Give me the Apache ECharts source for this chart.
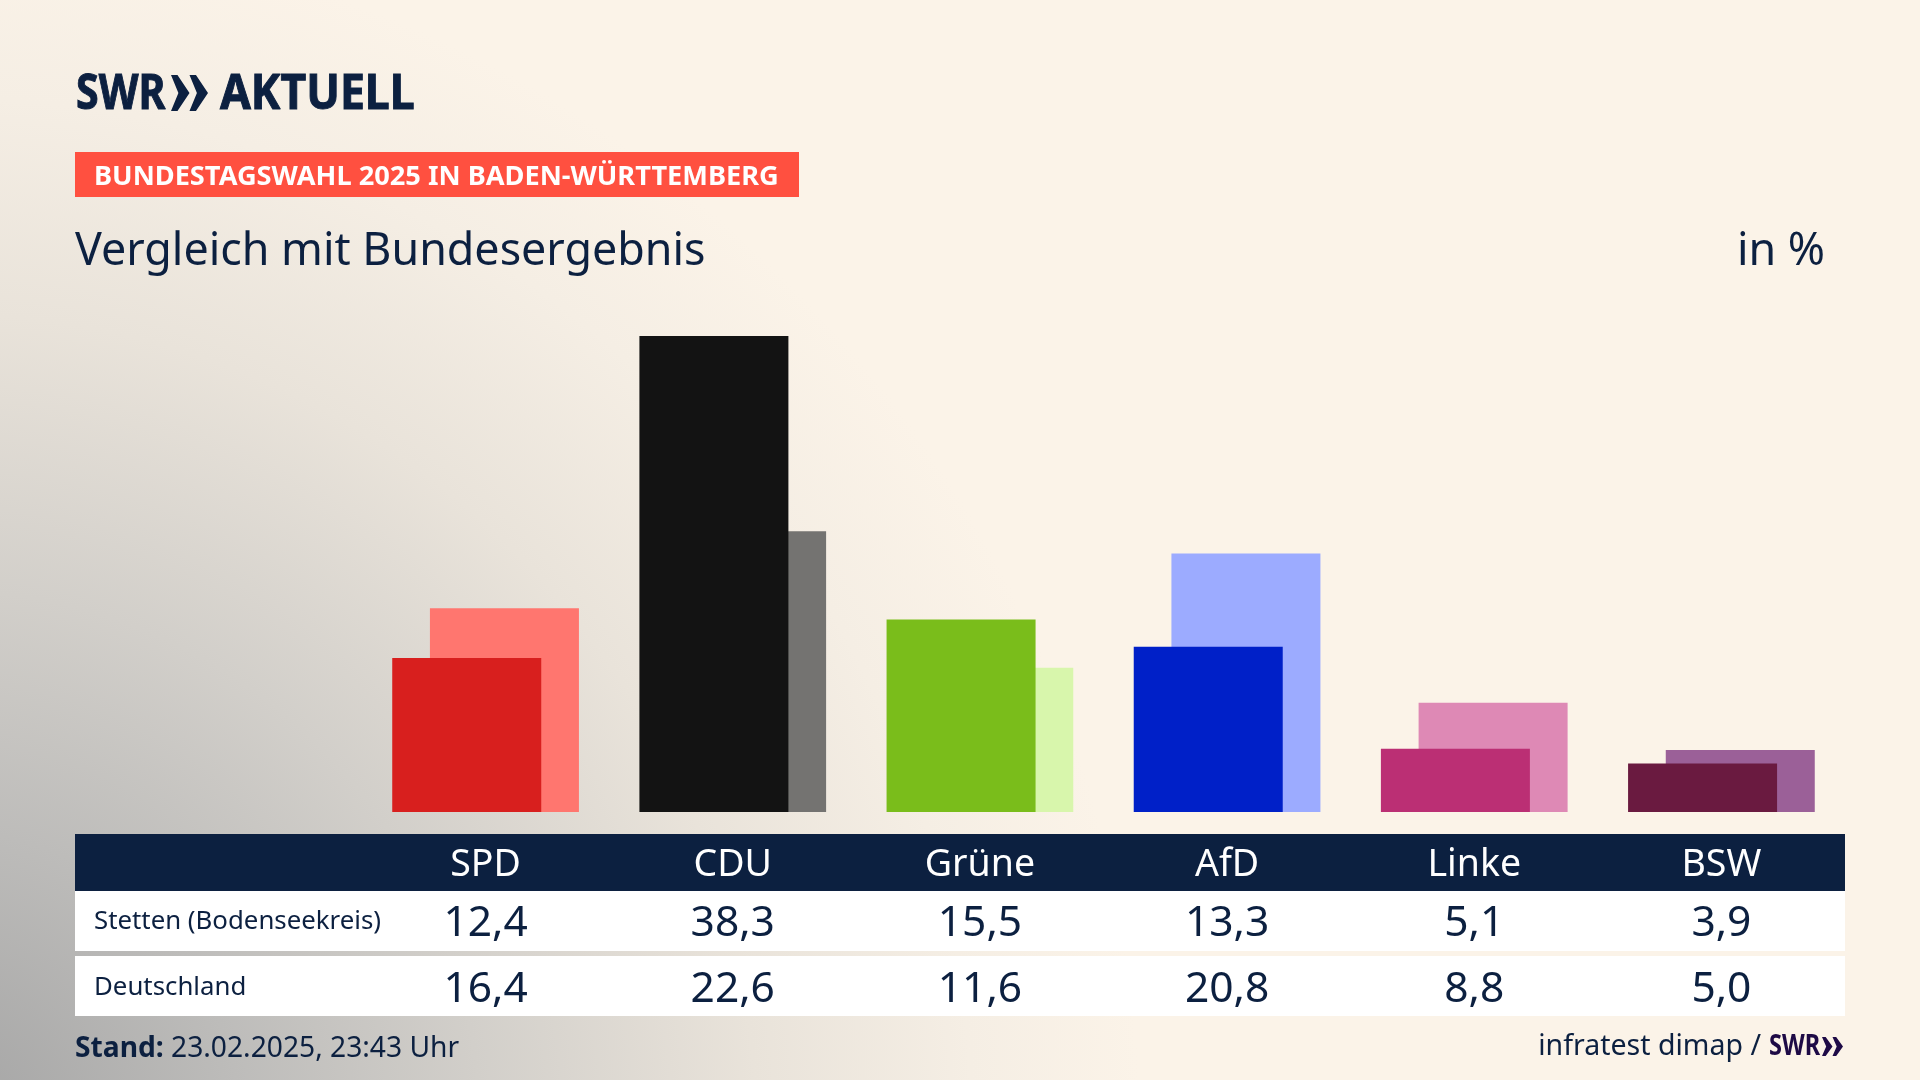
<!DOCTYPE html>
<html lang="de">
<head>
<meta charset="utf-8">
<title>Vergleich mit Bundesergebnis</title>
<style>
  html, body { margin: 0; padding: 0; background: #fbf3e8; }
  #chart-container {
    width: 1920px; height: 1080px;
    background:
      radial-gradient(ellipse 1200px 1200px at -60px 1130px,
        #a3a3a3 0%, #bdbcba 25%, #d2cfca 45%, #e9e3da 68%, #f5eee4 86%, #fbf3e8 100%),
      #fbf3e8;
  }
</style>
<script src="https://cdn.jsdelivr.net/npm/echarts@6/dist/echarts.min.js"></script>
</head>
<body>
<div id="chart-container"></div>
<script>
const parties = ['SPD', 'CDU', 'Grüne', 'AfD', 'Linke', 'BSW'];
const stettenValues = [12.4, 38.3, 15.5, 13.3, 5.1, 3.9];
const deutschlandValues = [16.4, 22.6, 11.6, 20.8, 8.8, 5.0];
const stettenColors = ['#d81f1e', '#131313', '#7abd1b', '#0020c8', '#bb2f74', '#6a1a40'];
const deutschlandColors = ['#ff766f', '#747371', '#d8f6ac', '#9cabff', '#de89b5', '#9b6098'];

const navy = '#0c2040';
const purple = '#1e0a46';
const fontName = '"Noto Sans", sans-serif';

var myChart = echarts.init(document.getElementById('chart-container'), null, { renderer: 'canvas' });

function fmt(v) { return v.toFixed(1).replace('.', ','); }

// one extra x axis per table row, so the numbers stay on the bars' columns
function rowAxis(margin, size, color, formatter) {
    return {
        type: 'category',
        data: parties,
        position: 'bottom',
        axisLine: { show: false },
        axisTick: { show: false },
        axisLabel: {
            interval: 0, margin: margin, color: color, fontSize: size,
            fontFamily: fontName, verticalAlign: 'middle', formatter: formatter
        }
    };
}

function label(x, y, text, size, opts, scaleX) {
    return {
        type: 'text', x: x, y: y, z: 5, scaleX: scaleX || 1,
        style: Object.assign({
            text: text, fontSize: size, fontFamily: fontName, fill: navy, verticalAlign: 'middle'
        }, opts || {})
    };
}

function box(x, y, w, h, color) {
    return { type: 'rect', z: -1, silent: true, shape: { x: x, y: y, width: w, height: h }, style: { fill: color } };
}

// the two SWR chevrons
function chevrons(x, y, w, h, color) {
    const part = w / 2;
    return [0, part].map(function (dx) {
        return {
            type: 'polygon', z: 5,
            shape: { points: [
                [x + dx, y], [x + dx + part * 0.35, y], [x + dx + part, y + h / 2],
                [x + dx + part * 0.35, y + h], [x + dx, y + h], [x + dx + part * 0.4, y + h / 2]
            ] },
            style: { fill: color }
        };
    });
}

const option = {
    animation: false,
    backgroundColor: 'transparent',
    grid: { left: 362, right: 75, top: 315, bottom: 268 },
    xAxis: [
        rowAxis(53, 37.5, '#ffffff', function (v) { return v; }),
        rowAxis(112, 42.5, navy, function (v, i) { return fmt(stettenValues[i]); }),
        rowAxis(178, 42.5, navy, function (v, i) { return fmt(deutschlandValues[i]); })
    ],
    yAxis: { type: 'value', min: 0, max: 40, show: false },
    series: [
        {
            name: 'Stetten (Bodenseekreis)', type: 'bar', z: 3,
            barWidth: 149, barGap: '-74.7%',
            data: stettenValues.map(function (v, i) { return { value: v, itemStyle: { color: stettenColors[i] } }; })
        },
        {
            name: 'Deutschland', type: 'bar', z: 2,
            barWidth: 149, barGap: '-74.7%',
            data: deutschlandValues.map(function (v, i) { return { value: v, itemStyle: { color: deutschlandColors[i] } }; })
        }
    ],
    graphic: [
        box(75, 152, 724, 45, '#ff5040'),
        box(75, 834, 1770, 57, navy),
        box(75, 891, 1770, 60, '#ffffff'),
        box(75, 956, 1770, 60, '#ffffff'),
        label(76, 95, 'SWR', 49, { fontWeight: 'bold', stroke: navy, lineWidth: 1 }, 0.84),
        label(220, 95, 'AKTUELL', 49, { fontWeight: 'bold', stroke: navy, lineWidth: 1 }, 0.91),
        label(94, 177, 'BUNDESTAGSWAHL 2025 IN BADEN-WÜRTTEMBERG', 27.2, { fontWeight: 'bold', fill: '#ffffff' }),
        label(75, 252, 'Vergleich mit Bundesergebnis', 44.8),
        label(1825, 252, 'in %', 44.8, { align: 'right' }),
        label(94, 922, 'Stetten (Bodenseekreis)', 25.8),
        label(94, 988, 'Deutschland', 25.8),
        label(75, 1049, '{b|Stand:} 23.02.2025, 23:43 Uhr', 28.2, {
            rich: { b: { fontSize: 28.2, fontFamily: fontName, fontWeight: 'bold', fill: navy } }
        }),
        label(1761, 1047, 'infratest dimap /', 28.5, { align: 'right' }),
        label(1769, 1047, 'SWR', 28, { fontWeight: 'bold', fill: purple }, 0.84)
    ].concat(chevrons(171, 75, 37, 36, navy), chevrons(1822, 1037, 21, 19, purple))
};

myChart.setOption(option);

window.addEventListener('resize', function () {
    myChart.resize();
});
</script>
</body>
</html>
